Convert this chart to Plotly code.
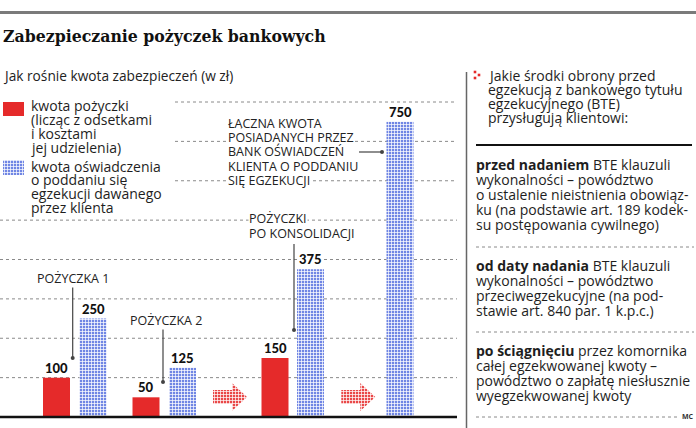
import plotly.graph_objects as go

W, H = 696, 428

# ---------------- data ----------------
groups = ["Pożyczka 1", "Pożyczka 2", "Pożyczki po konsolidacji", "Łączna kwota oświadczeń"]
loan_amount = [100, 50, 150, None]          # kwota pożyczki
declaration_amount = [250, 125, 375, 750]   # kwota oświadczenia
grid_values = [100, 200, 300, 400, 500, 600, 700, 800]

title = "Zabezpieczanie pożyczek bankowych"
subtitle = "Jak rośnie kwota zabezpieczeń (w zł)"
legend_loan = ["kwota pożyczki", "(licząc z odsetkami", "i kosztami", "jej udzielenia)"]
legend_decl = ["kwota oświadczenia", "o poddaniu się", "egzekucji dawanego", "przez klienta"]
group_labels = [
    ["POŻYCZKA 1"],
    ["POŻYCZKA 2"],
    ["POŻYCZKI", "PO KONSOLIDACJI"],
    ["ŁĄCZNA KWOTA", "POSIADANYCH PRZEZ", "BANK OŚWIADCZEŃ", "KLIENTA O PODDANIU", "SIĘ EGZEKUCJI"],
]
side_header = ["Jakie środki obrony przed", "egzekucją z bankowego tytułu",
               "egzekucyjnego (BTE)", "przysługują klientowi:"]
side_sections = [
    ["<b>przed nadaniem</b> BTE klauzuli", "wykonalności – powództwo",
     "o ustalenie nieistnienia obowiąz-", "ku (na podstawie art. 189 kodek-",
     "su postępowania cywilnego)"],
    ["<b>od daty nadania</b> BTE klauzuli", "wykonalności – powództwo",
     "przeciwegzekucyjne (na pod-", "stawie art. 840 par. 1 k.p.c.)"],
    ["<b>po ściągnięciu</b> przez komornika", "całej egzekwowanej kwoty –",
     "powództwo o zapłatę niesłusznie", "wyegzekwowanej kwoty"],
]
credit = "MC"

# ---------------- layout / style ----------------
RED = "#e52a2a"
BLUE = "#7086e4"
GRID = "#8a8a8a"
TXT = "#1e1e1e"
SANS = "Open Sans"
PX_PER_UNIT = 315 / 800.0
BASE_PX = 417
red_x = [56.5, 146, 275, None]
blue_x = [93, 182.5, 310.5, 400]
BAR_W = 27

ymin = -(H - BASE_PX) / PX_PER_UNIT
ymax = BASE_PX / PX_PER_UNIT

fig = go.Figure()

blue_pattern = dict(shape="+", fgcolor="white", bgcolor=BLUE, size=3, solidity=0.42, fillmode="replace")
red_pattern = dict(shape="+", fgcolor="white", bgcolor="#e94848", size=3, solidity=0.42, fillmode="replace")

rx = [x for x, v in zip(red_x, loan_amount) if v is not None]
rv = [v for v in loan_amount if v is not None]
fig.add_trace(go.Bar(x=rx, y=rv, width=BAR_W, marker=dict(color=RED, line=dict(width=0)),
                     name="kwota pożyczki", hoverinfo="skip"))
fig.add_trace(go.Bar(x=blue_x, y=declaration_amount, width=BAR_W,
                     marker=dict(color="white", line=dict(width=0), pattern=blue_pattern),
                     name="kwota oświadczenia", hoverinfo="skip"))

annotations = []
shapes = []

def txt(x, y, s, size=12, color=TXT, family=SANS, xanchor="left", bold=False, bg=None, weight=None):
    f = dict(size=size, color=color, family=family)
    if weight:
        f["weight"] = weight
    a = dict(x=x, y=y, xref="x", yref="y2", text=("<b>%s</b>" % s) if bold else s,
             showarrow=False, xanchor=xanchor, yanchor="middle", font=f, borderpad=0)
    if bg:
        a["bgcolor"] = bg
    annotations.append(a)

# value labels
for xs, vals in ((red_x, loan_amount), (blue_x, declaration_amount)):
    for x, v in zip(xs, vals):
        if v is None:
            continue
        annotations.append(dict(x=x, y=v, xref="x", yref="y", text=str(v), showarrow=False,
                                xanchor="center", yanchor="middle", yshift=10, bgcolor="white",
                                borderpad=0,
                                font=dict(family="Lato", size=13, color="#111", weight=900)))

# gridlines
for g in grid_values:
    x0 = 175 if g >= 600 else 0
    shapes.append(dict(type="line", xref="x", yref="y", x0=x0, x1=457, y0=g, y1=g,
                       line=dict(color=GRID, width=1, dash="dot"), layer="below"))
# baseline
shapes.append(dict(type="line", xref="x", yref="y", x0=0, x1=457, y0=0, y1=0,
                   line=dict(color="#111", width=2.5), layer="above"))

# frame lines (pixel coords)
def pline(x0, y0, x1, y1, color, width, dash="solid"):
    shapes.append(dict(type="line", xref="x", yref="y2", x0=x0, x1=x1, y0=y0, y1=y1,
                       line=dict(color=color, width=width, dash=dash)))

pline(0, 12.5, W, 12.5, "#7a7a7a", 3)
pline(466.5, 72, 466.5, H, "#666", 1.5)
pline(476, 145, 692, 145, "#111", 2)
pline(476, 247, 694, 247, GRID, 1, "dot")
pline(476, 332, 694, 332, GRID, 1, "dot")
pline(476, 417, 680, 417, GRID, 1, "dot")

# title/subtitle
txt(2, 36, title, size=17.5, family="DejaVu Serif Condensed, DejaVu Serif", bold=True, color="#111")
txt(2, 75, subtitle, size=13.7, color="#222")

# legend
shapes.append(dict(type="rect", xref="x", yref="y2", x0=3, x1=24, y0=102, y1=116,
                   fillcolor=RED, line=dict(width=0)))
fig.add_trace(go.Scatter(x=[3, 24, 24, 3, 3], y=[160, 160, 175, 175, 160], yaxis="y2",
                         mode="lines", line=dict(width=0), fill="toself", fillcolor="white",
                         fillpattern=blue_pattern, hoverinfo="skip", showlegend=False))
for i, s in enumerate(legend_loan):
    txt(30, 105 + 14 * i, s, size=14)
for i, s in enumerate(legend_decl):
    txt(30, 166 + 13.7 * i, s, size=14)

# arrows between groups
for cx in (230, 358.3):
    ax = [cx - 17, cx + 2, cx + 2, cx + 17, cx + 2, cx + 2, cx - 17, cx - 17]
    ay = [390, 390, 383, 397, 411, 404, 404, 390]
    fig.add_trace(go.Scatter(x=ax, y=ay, yaxis="y2", mode="lines", line=dict(width=0),
                             fill="toself", fillcolor="white", fillpattern=red_pattern,
                             hoverinfo="skip", showlegend=False))

# group labels + connectors
LBL = dict(size=12.5, color="#222")
txt(72.5, 278, group_labels[0][0], xanchor="center", bg="white", **LBL)
txt(166, 320, group_labels[1][0], xanchor="center", bg="white", **LBL)
for i, s in enumerate(group_labels[2]):
    txt(248, 218 + 15 * i, s, bg="white", **LBL)
for i, s in enumerate(group_labels[3]):
    txt(227, 123 + 14.4 * i, s, bg="white", **LBL)

conn = [((72.7, 287), (72.7, 358)), ((163, 329), (163, 382)),
        ((294, 244), (294, 330)), ((359, 152), (382, 152))]
for (x0, y0), (x1, y1) in conn:
    pline(x0, y0, x1, y1, "#444", 1.2)
fig.add_trace(go.Scatter(x=[c[1][0] for c in conn], y=[c[1][1] for c in conn], yaxis="y2",
                         mode="markers", marker=dict(size=4, color="#444"),
                         hoverinfo="skip", showlegend=False))

# side panel
fig.add_trace(go.Scatter(x=[475, 475, 479], y=[72, 78, 75], yaxis="y2", mode="markers",
                         marker=dict(size=2.6, color=RED, symbol="square"),
                         hoverinfo="skip", showlegend=False))
for i, s in enumerate(side_header):
    txt(487, 75 + 14 * i, s, size=14)
starts = [164, 265, 350]
for st, sec in zip(starts, side_sections):
    for i, s in enumerate(sec):
        txt(475, st + 15 * i, s, size=14)
txt(688, 416, credit, size=7, xanchor="center", bold=True, color="#333")

fig.update_layout(
    width=W, height=H, autosize=False,
    margin=dict(l=0, r=0, t=0, b=0),
    paper_bgcolor="white", plot_bgcolor="white",
    showlegend=False, barmode="overlay",
    xaxis=dict(range=[0, W], visible=False, fixedrange=True),
    yaxis=dict(range=[ymin, ymax], visible=False, fixedrange=True),
    yaxis2=dict(range=[H, 0], overlaying="y", visible=False, fixedrange=True),
    shapes=shapes, annotations=annotations,
)

fig.write_html("out.html", config={"displayModeBar": False},
               post_script="document.body.style.margin='0';document.body.style.overflow='hidden';")
